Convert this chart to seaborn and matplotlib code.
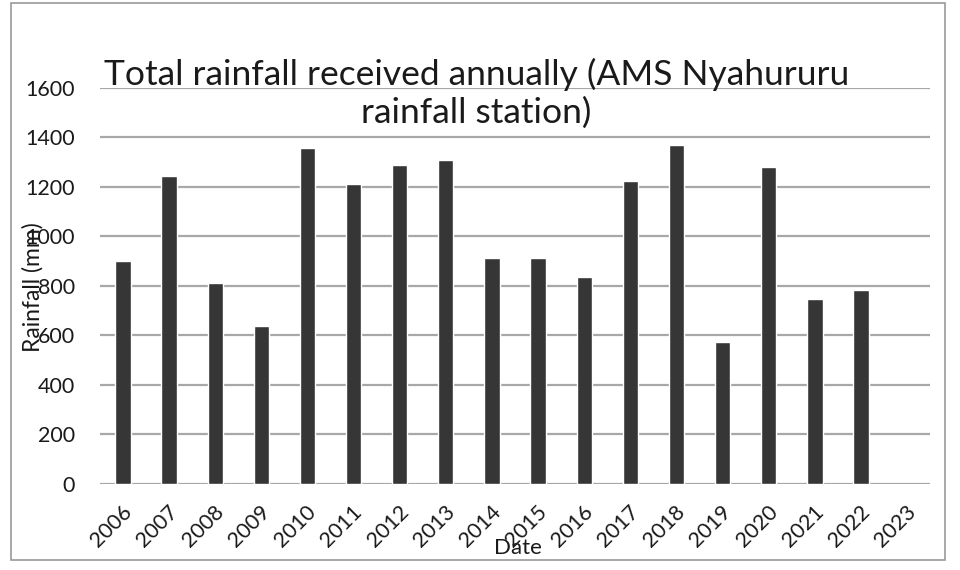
import numpy as np
import pandas as pd
import matplotlib
matplotlib.use("Agg")
import matplotlib.pyplot as plt
import matplotlib.transforms as mtransforms
import seaborn as sns

# Annual rainfall (mm); 2023 has no bar
years = ["2006", "2007", "2008", "2009", "2010", "2011", "2012", "2013", "2014",
         "2015", "2016", "2017", "2018", "2019", "2020", "2021", "2022", "2023"]
rainfall = [900, 1242, 812, 636, 1356, 1210, 1290, 1310, 912,
            912, 834, 1222, 1368, 574, 1280, 748, 782, np.nan]

df = pd.DataFrame({"Date": years, "Rainfall": rainfall})

sns.set_style("white")
plt.rcParams["font.family"] = ["Lato", "DejaVu Sans"]

fig = plt.figure(figsize=(9.6, 5.7), dpi=100)
ax = fig.add_axes([0.104, 0.151, 0.865, 0.695])

sns.barplot(data=df, x="Date", y="Rainfall", color="#363636", width=0.33,
            saturation=1, ax=ax, zorder=3)

ax.set_ylim(0, 1600)
ax.set_yticks(range(0, 1601, 200))
ax.grid(axis="y", color="#a8a8a8", linewidth=1.6, zorder=0)
ax.set_axisbelow(True)
for s in ax.spines.values():
    s.set_visible(False)

ax.tick_params(axis="y", length=0, pad=18, labelsize=15.5, colors="#1a1a1a")
ax.tick_params(axis="x", length=0, pad=4, labelsize=15.5, colors="#1a1a1a")
offset = mtransforms.ScaledTranslation(-1 / 72, -9 / 72, fig.dpi_scale_trans)
for lbl in ax.get_xticklabels():
    lbl.set_rotation(45)
    lbl.set_ha("right")
    lbl.set_rotation_mode("anchor")
    lbl.set_transform(lbl.get_transform() + offset)

ax.set_xlabel("")
ax.set_ylabel("")

# labels drawn like the original, overlapping the tick labels
fig.text(0.034, 0.497, "Rainfall (mm)", rotation=90, ha="center", va="center",
         fontsize=16.5, color="#1a1a1a")
fig.text(0.539, 0.038, "Date", ha="center", va="center", fontsize=16, color="#1a1a1a")

fig.text(0.496, 0.836, "Total rainfall received annually (AMS Nyahururu\nrainfall station)",
         ha="center", va="center", multialignment="center", fontsize=25.5,
         linespacing=1.2, color="#1a1a1a")

# outer chart frame
frame = plt.Rectangle((0.011, 0.018), 0.973, 0.977, transform=fig.transFigure,
                      fill=False, edgecolor="#9a9a9a", linewidth=1.2)
fig.patches.append(frame)

fig.savefig("out.png", dpi=100)
